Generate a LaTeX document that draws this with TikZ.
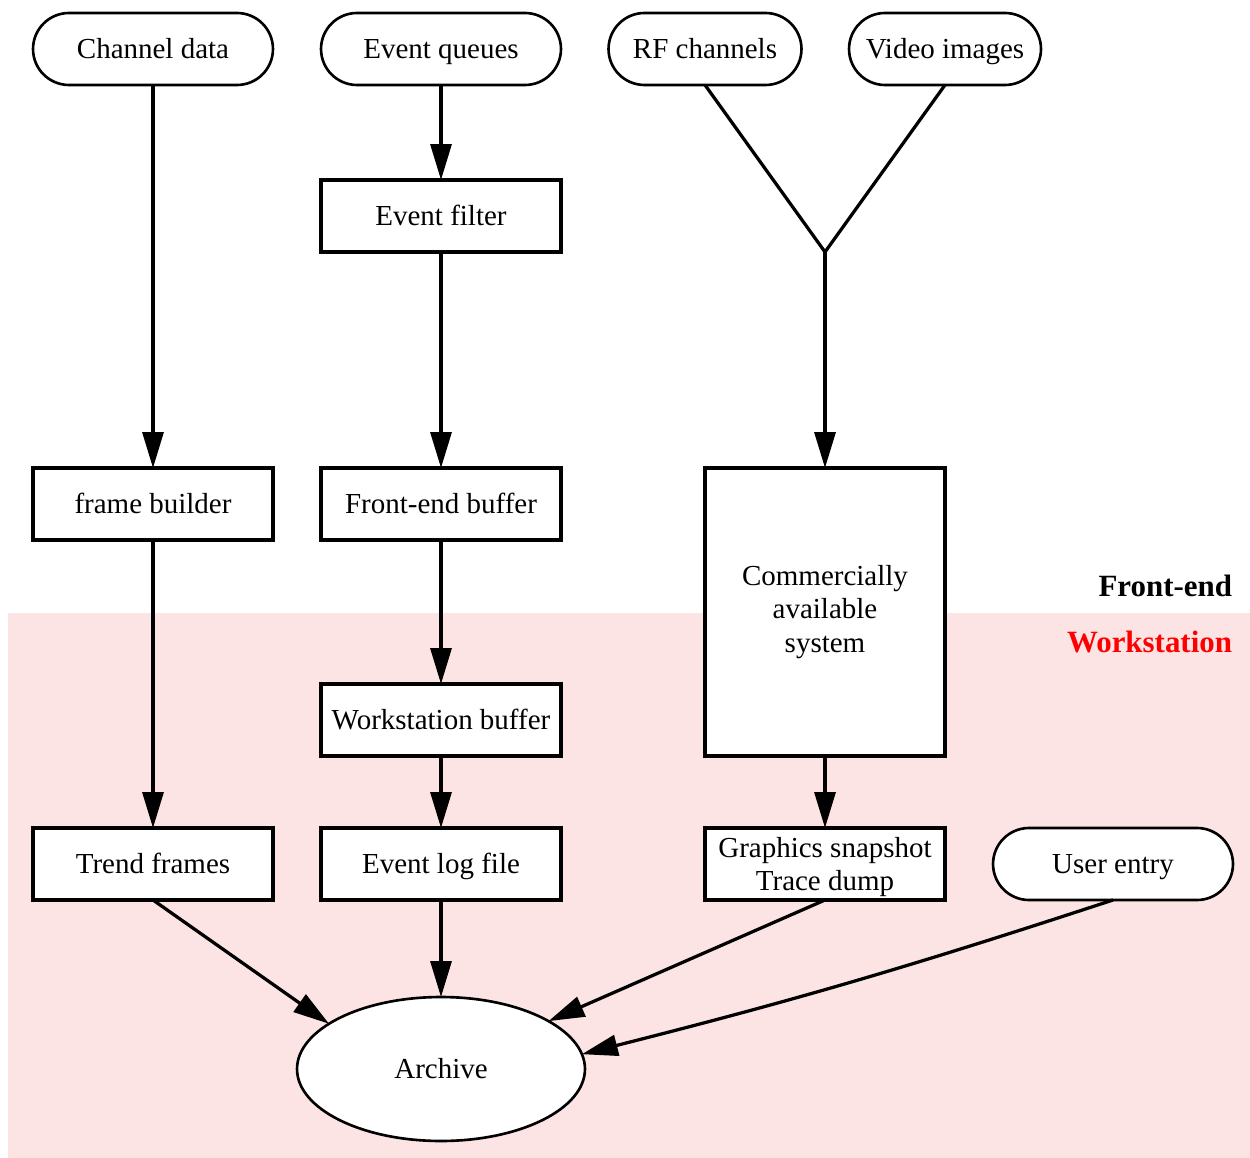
\documentclass[tikz,border=0pt]{standalone}
\usepackage{fontspec}
\setmainfont{Liberation Serif}
\usetikzlibrary{arrows.meta,shapes.geometric}
\definecolor{wspink}{RGB}{252,228,228}
\definecolor{wsred}{RGB}{255,0,0}
\begin{document}
\begin{tikzpicture}[x=0.02cm,y=-0.02cm,
  every node/.style={font=\fontsize{16.5}{19}\selectfont, inner sep=0pt, outer sep=0pt},
  oneline/.style={text height=11pt, text depth=0pt},
  box/.style={draw, line width=1.8pt, fill=white, minimum width=4.8cm, minimum height=1.44cm, align=center},
  term/.style={draw, line width=1.5pt, fill=white, rounded corners=0.72cm, minimum width=4.8cm, minimum height=1.44cm, oneline},
  store/.style={draw, line width=1.5pt, fill=white, ellipse, minimum width=5.76cm, minimum height=2.88cm, oneline},
  zone/.style={font=\fontsize{17.6}{20}\bfseries\selectfont, anchor=base east},
  flow/.style={line width=1.85pt, -{Triangle[length=0.72cm,width=0.42cm]}},
  link/.style={line width=1.85pt}
]
% page frame
\useasboundingbox (0,0) rectangle (1250,1158);
% workstation region
\fill[wspink] (8,613) rectangle (1250,1158);
\node[zone] (fe) at (1232,596) {Front-end};
\node[zone, text=wsred] (ws) at (1232,652) {Workstation};

% sources
\node[term] (chan) at (153,49) {Channel data};
\node[term] (evq) at (441,49) {Event queues};
\node[term, minimum width=3.86cm] (rf) at (705,49) {RF channels};
\node[term, minimum width=3.84cm] (vid) at (945,49) {Video images};

% processing boxes
\node[box, oneline] (filt) at (441,216) {Event filter};
\node[box, oneline] (frame) at (153,504) {frame builder};
\node[box, oneline] (febuf) at (441,504) {Front-end buffer};
\node[box, minimum height=5.76cm] (comm) at (825,612) {Commercially\\available\\system};
\node[box, oneline] (wsbuf) at (441,720) {Workstation buffer};
\node[box, oneline] (trend) at (153,864) {Trend frames};
\node[box, oneline] (elog) at (441,864) {Event log file};
\node[box, text depth=0pt] (gfx) at (825,864) {Graphics snapshot\\Trace dump};
\node[term] (user) at (1113,864) {User entry};
\node[store] (arch) at (441,1069) {Archive};

% merge point of the two RF inputs
\coordinate (join) at (825,252);

% connectors
\draw[flow] (chan.south) -- (frame.north);
\draw[flow] (evq.south) -- (filt.north);
\draw[flow] (filt.south) -- (febuf.north);
\draw[link] (rf.south) -- (join);
\draw[link] (vid.south) -- (join);
\draw[flow] (join) -- (comm.north);
\draw[flow] (frame.south) -- (trend.north);
\draw[flow] (febuf.south) -- (wsbuf.north);
\draw[flow] (wsbuf.south) -- (elog.north);
\draw[flow] (comm.south) -- (gfx.north);
\draw[flow] (trend.south) -- (arch.158);
\draw[flow] (elog.south) -- (arch.north);
\draw[flow] (gfx.south) -- (arch.24);
\draw[flow] (user.south) to[bend left=2] (arch.6);
\end{tikzpicture}
\end{document}
